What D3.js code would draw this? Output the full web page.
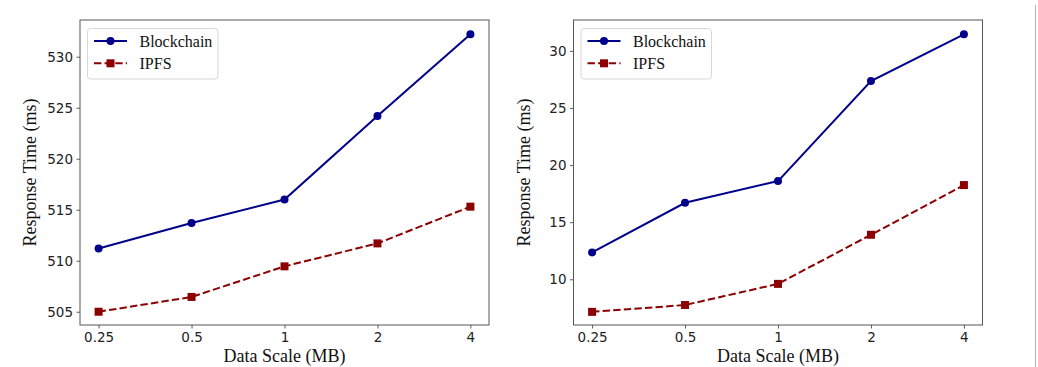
<!DOCTYPE html>
<html><head><meta charset="utf-8">
<script src="https://cdn.jsdelivr.net/npm/d3@7"></script>
<style>body{margin:0;background:#fff}svg{display:block}</style>
</head><body>
<svg id="c" width="1038" height="367"></svg>
<script>
const categories = ["0.25", "0.5", "1", "2", "4"];
const leftBlockchain = [511.2, 513.7, 516.0, 524.2, 532.2];
const leftIPFS = [505.0, 506.45, 509.45, 511.7, 515.3];
const leftTicks = [505, 510, 515, 520, 525, 530];
const rightBlockchain = [12.35, 16.7, 18.6, 27.35, 31.45];
const rightIPFS = [7.15, 7.75, 9.6, 13.9, 18.25];
const rightTicks = [10, 15, 20, 25, 30];
const seriesNames = ["Blockchain", "IPFS"];

const svg = d3.select("#c");
const blue = "#00008b", red = "#8b0000";

function panel(x0, x1, y0, y1, yDomain, ticks, blk, ipfs) {
  const g = svg.append("g");
  const step = (x1 - x0) / (4 + 0.4);
  const x = d3.scalePoint().domain(categories).range([x0 + step*0.2, x1 - step*0.2]);
  const y = d3.scaleLinear().domain(yDomain).range([y1, y0]);

  const xa = g.append("g").attr("transform", `translate(0,${y1})`)
    .call(d3.axisBottom(x).tickSize(3.5).tickPadding(3.5));
  const ya = g.append("g").attr("transform", `translate(${x0},0)`)
    .call(d3.axisLeft(y).tickValues(ticks).tickSize(3.5).tickPadding(3.5));
  [xa, ya].forEach(a => {
    a.select(".domain").remove();
    a.selectAll("line").attr("stroke", "#333").attr("stroke-width", 0.8);
    a.selectAll("text").attr("fill", "#222").style("font-family", "DejaVu Sans").style("font-size", "13.5px");
  });

  const line = d3.line().x((d, i) => x(categories[i])).y(d => y(d));
  g.append("path").datum(blk).attr("d", line).attr("fill", "none")
    .attr("stroke", blue).attr("stroke-width", 2);
  g.append("path").datum(ipfs).attr("d", line).attr("fill", "none")
    .attr("stroke", red).attr("stroke-width", 2).attr("stroke-dasharray", "7.4,3.2");
  g.selectAll(".pb").data(blk).enter().append("circle")
    .attr("cx", (d, i) => x(categories[i])).attr("cy", d => y(d)).attr("r", 4).attr("fill", blue);
  g.selectAll(".pi").data(ipfs).enter().append("rect")
    .attr("x", (d, i) => x(categories[i]) - 4).attr("y", d => y(d) - 4)
    .attr("width", 8).attr("height", 8).attr("fill", red);

  g.append("rect").attr("x", x0).attr("y", y0).attr("width", x1 - x0).attr("height", y1 - y0)
    .attr("fill", "none").attr("stroke", "#555").attr("stroke-width", 1);

  g.append("text").attr("x", (x0 + x1) / 2).attr("y", 362).attr("text-anchor", "middle")
    .style("font-family", "Liberation Serif").style("font-size", "18px").attr("fill", "#111")
    .text("Data Scale (MB)");
  g.append("text").attr("transform", `translate(${x0 - 44},${(y0 + y1) / 2}) rotate(-90)`)
    .attr("text-anchor", "middle")
    .style("font-family", "Liberation Serif").style("font-size", "18px").attr("fill", "#111")
    .text("Response Time (ms)");

  const lg = g.append("g").attr("transform", `translate(${x0 + 7.5},${y0 + 8.5})`);
  lg.append("rect").attr("width", 130.5).attr("height", 50.5).attr("rx", 3)
    .attr("fill", "#fff").attr("stroke", "#d8d8d8").attr("stroke-width", 1);
  const rows = [{c: blue, dash: null, m: "circle"}, {c: red, dash: "7.4,3.2", m: "rect"}];
  rows.forEach((r, i) => {
    const cy = 12.5 + i * 22.3;
    lg.append("line").attr("x1", 6.5).attr("x2", 39.5).attr("y1", cy).attr("y2", cy)
      .attr("stroke", r.c).attr("stroke-width", 2).attr("stroke-dasharray", r.dash);
    if (r.m === "circle") lg.append("circle").attr("cx", 23).attr("cy", cy).attr("r", 4).attr("fill", r.c);
    else lg.append("rect").attr("x", 19).attr("y", cy - 4).attr("width", 8).attr("height", 8).attr("fill", r.c);
    lg.append("text").attr("x", 52).attr("y", cy).attr("dy", "0.35em")
      .style("font-family", "Liberation Serif").style("font-size", "16px").attr("fill", "#111")
      .text(seriesNames[i]);
  });
}

panel(80, 489, 20, 325, [503.7, 533.6], leftTicks, leftBlockchain, leftIPFS);
panel(573.5, 982.5, 20, 325, [6.0, 32.7], rightTicks, rightBlockchain, rightIPFS);

svg.append("line").attr("x1", 1035.5).attr("x2", 1035.5).attr("y1", 5).attr("y2", 367)
  .attr("stroke", "#bbb").attr("stroke-width", 1.2);
</script>
</body></html>
